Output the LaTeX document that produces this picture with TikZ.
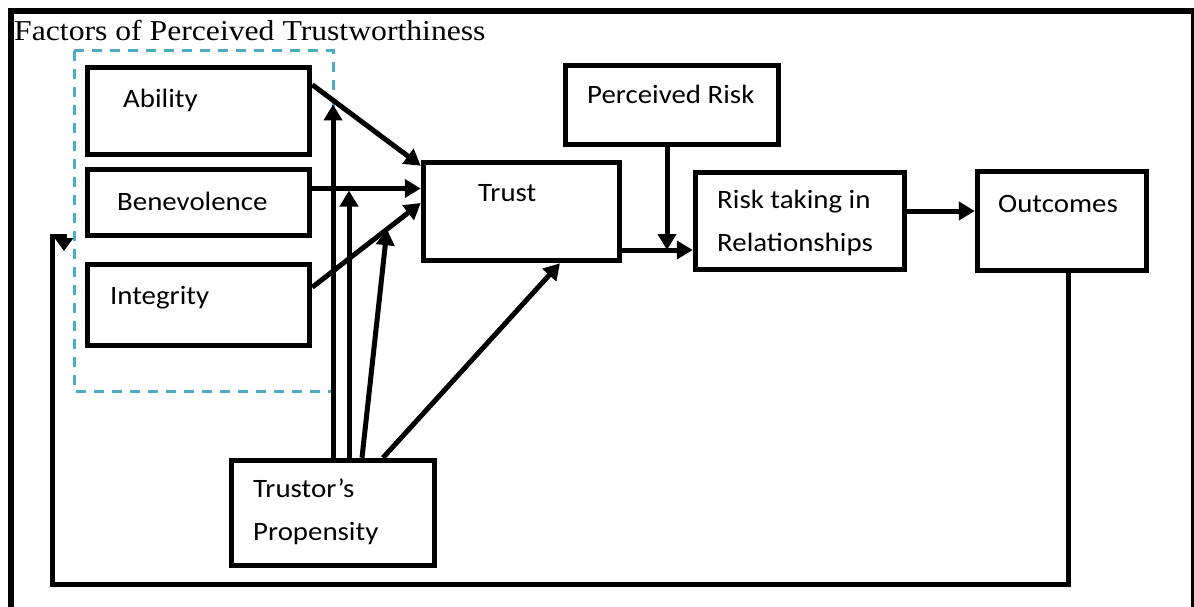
\documentclass[tikz,border=0pt]{standalone}
\usepackage{fontspec}
\setmainfont{Liberation Serif}[FakeStretch=1.1]
\newfontfamily\calibri{Carlito}[FakeStretch=1.09]
\usetikzlibrary{arrows.meta}
\definecolor{dashblue}{HTML}{4BACC6}

\begin{document}
\begin{tikzpicture}[
	x=1pt, y=-1pt,
	>={Triangle[width=18pt,length=16pt]},
	box/.style={draw, line width=5.5pt, inner sep=0pt},
	txt/.style={anchor=base west, inner sep=0pt, font=\calibri\fontsize{26.5}{32}\selectfont},
	conn/.style={line width=5pt}
	]
	\useasboundingbox (0,0) rectangle (1194,607);
	% frame and title
	\draw[line width=6pt] (11,607) -- (11,11) -- (1194,11);
	\draw[line width=2.5pt] (1192.5,11) -- (1192.5,607);
	\node[anchor=base west, inner sep=0pt, font=\fontsize{28.8}{34}\selectfont] (title) at (14,41) {Factors of Perceived Trustworthiness};
	\draw[dashblue, line width=3pt, dash pattern=on 10pt off 8pt] (74,51) rectangle (333,391);
	% boxes
	\node[box, minimum width=222pt, minimum height=87pt] (ab) at (198.5,111) {};
	\node[box, minimum width=222pt, minimum height=66pt] (bn) at (198.5,202.5) {};
	\node[box, minimum width=222pt, minimum height=81pt] (in) at (198.5,305) {};
	\node[box, minimum width=196pt, minimum height=98pt] (tr) at (521.5,211.5) {};
	\node[box, minimum width=213pt, minimum height=79pt] (pk) at (672,105) {};
	\node[box, minimum width=209pt, minimum height=97pt] (rt) at (800,221) {};
	\node[box, minimum width=169pt, minimum height=99pt] (oc) at (1062,221) {};
	\node[box, minimum width=203pt, minimum height=105pt] (pr) at (333,513) {};
	% box texts
	\node[txt] (abt) at (123,108) {Ability};
	\node[txt] (bnt) at (117,210) {Benevolence};
	\node[txt] (intt) at (110,304) {Integrity};
	\node[txt] (trt) at (478,201) {Trust};
	\node[txt] (pkt) at (587,104) {Perceived Risk};
	\node[txt] (rtt) at (717,208) {Risk taking in};
	\node[txt] (rtt2) at (717,251) {Relationships};
	\node[txt] (oct) at (998,212) {Outcomes};
	\node[txt] (prt) at (253,497) {Trustor’s};
	\node[txt] (prt2) at (253,540) {Propensity};
	% helper points
	\coordinate (tr1) at ([yshift=-38.5pt]tr.east);
	\coordinate (rt1) at ([yshift=10pt]rt.east);
	\coordinate (pk1) at ([xshift=-5pt]pk.south);
	\coordinate (pr2) at ([xshift=16pt]pr.north);
	\coordinate (pr3) at ([xshift=29pt]pr.north);
	\coordinate (pr4) at ([xshift=50pt]pr.north);
	\coordinate (fb0) at ([xshift=6pt]oc.south);
	\coordinate (fb1) at (52.5,584);
	\coordinate (fb2) at (64,236);
	\coordinate (fb3) at (64,251);
	\begin{scope}[->, conn]
		\draw ([yshift=-20pt]ab.north east) -- coordinate[pos=0.206] (m1) ([yshift=-6pt]tr.north west);
		\draw ([yshift=14pt]bn.east) -- coordinate[pos=0.3] (m2) ([yshift=23pt]tr.west);
		\draw ([yshift=-25.5pt]in.north east) -- coordinate[pos=0.689] (m3) ([yshift=8.5pt]tr.west);
		\draw[shorten >=3pt] (pr.north) -- (pr.north |- m1);
		\draw[shorten >=2pt] (pr2) -- (pr2 |- m2);
		\draw (pr3) -- (m3);
		\draw (pr4) -- ([xshift=38.5pt]tr.south);
		\draw (tr1) -- coordinate[pos=0.6] (m4) (tr1 -| rt.west);
		\draw (pk1) -- (pk1 |- m4);
		\draw (rt1) -- (rt1 -| oc.west);
		% feedback loop
		\draw[>={Triangle[width=18pt,length=13pt]}] (fb0) |- (fb1) |- (fb2) -- (fb3);
	\end{scope}
\end{tikzpicture}
\end{document}
